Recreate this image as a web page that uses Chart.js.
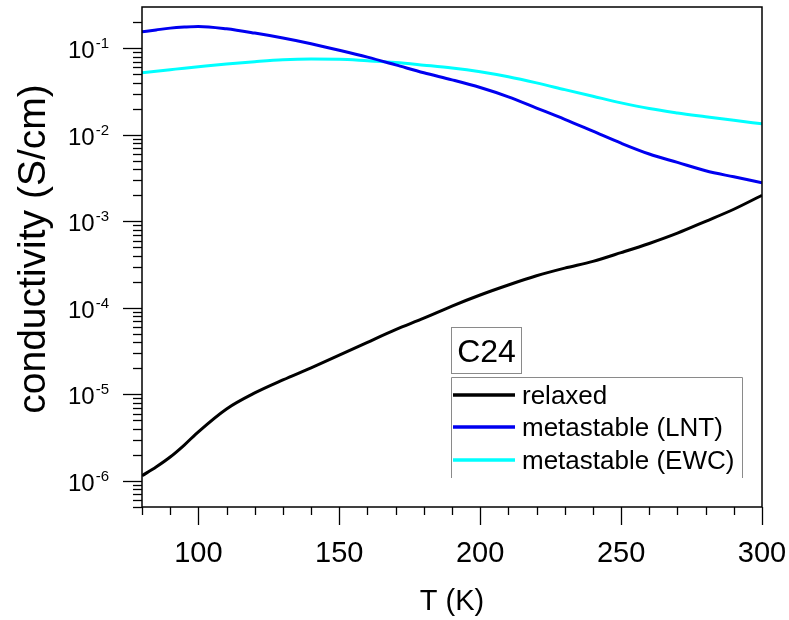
<!DOCTYPE html>
<html>
<head>
<meta charset="utf-8">
<script src="https://cdn.jsdelivr.net/npm/chart.js@4.4.1/dist/chart.umd.min.js"></script>
<style>
  html, body { margin: 0; padding: 0; background: #fff; }
  #wrap { width: 789px; height: 620px; }
</style>
</head>
<body>
<div id="wrap"><canvas id="chart" width="789" height="620"></canvas></div>
<script>
/* ============================= */
/* DATA   */
/* ============================= */

const temps = [80, 85, 90, 95, 100, 110, 120, 130, 140, 150, 160, 170, 180,
  190, 200, 210, 220, 230, 240, 250, 260, 270, 280, 290, 300];

const relaxed = [1.15e-6, 1.45e-6, 1.89e-6, 2.6e-6, 3.7e-6, 6.8e-6, 1.04e-5,
  1.47e-5, 2.03e-5, 2.84e-5, 4.0e-5, 5.6e-5, 7.6e-5, 1.05e-4, 1.41e-4,
  1.84e-4, 2.35e-4, 2.88e-4, 3.45e-4, 4.35e-4, 5.55e-4, 7.3e-4, 1.0e-3,
  1.38e-3, 2.0e-3];

const metaLNT = [0.155, 0.163, 0.171, 0.176, 0.179, 0.168, 0.150, 0.1315,
  0.113, 0.095, 0.079, 0.0643, 0.0521, 0.0432, 0.0352, 0.0275, 0.0204,
  0.0151, 0.011, 0.008, 0.006, 0.0048, 0.00384, 0.00327, 0.0028];

const metaEWC = [0.0523, 0.0544, 0.0566, 0.0589, 0.0612, 0.0659, 0.070,
  0.0736, 0.075, 0.0746, 0.0716, 0.0684, 0.0638, 0.0592, 0.0535, 0.0468,
  0.0398, 0.0333, 0.0279, 0.0234, 0.0201, 0.0179, 0.0162, 0.0147, 0.0134];

const seriesNames = ["relaxed", "metastable (LNT)", "metastable (EWC)"];
const seriesColors = ["#000000", "#0000f0", "#00ffff"];

const xMajorTicks = [100, 150, 200, 250, 300];
const xMinorTicks = [80, 90, 110, 120, 130, 140, 160, 170, 180, 190, 210,
  220, 230, 240, 260, 270, 280, 290];
const yExponents = [-6, -5, -4, -3, -2, -1];

const FONT = "'Liberation Sans', Arial, sans-serif";

function toPoints(vals) {
  return temps.map((t, i) => ({ x: t, y: vals[i] }));
}

/* ============================= */
/* AXES, FRAME, LEGEND           */
/* ============================= */

const framePlugin = {
  id: "frame",
  afterDraw(chart) {
    const { ctx, chartArea: a, scales } = chart;
    const xs = scales.x, ys = scales.y;
    ctx.save();
    ctx.strokeStyle = "#000";
    ctx.fillStyle = "#000";
    ctx.lineWidth = 1.5;
    ctx.strokeRect(a.left, a.top, a.right - a.left, a.bottom - a.top);

    // x ticks
    ctx.lineWidth = 1.3;
    const xTicks = xMajorTicks.map((t) => [t, 18]).concat(xMinorTicks.map((t) => [t, 8]));
    xTicks.forEach(([t, len]) => {
      const px = Math.round(xs.getPixelForValue(t)) + 0.5;
      ctx.beginPath();
      ctx.moveTo(px, a.bottom);
      ctx.lineTo(px, a.bottom + len);
      ctx.stroke();
    });
    ctx.font = "29px " + FONT;
    ctx.textAlign = "center";
    ctx.textBaseline = "alphabetic";
    xMajorTicks.forEach((t) => {
      ctx.fillText(String(t), xs.getPixelForValue(t), a.bottom + 55);
    });
    ctx.fillText("T (K)", (a.left + a.right) / 2, 610);

    // y ticks (log, 1..9 per decade)
    for (let e = -7; e <= 0; e++) {
      for (let m = 1; m <= 9; m++) {
        const v = m * Math.pow(10, e);
        if (v < ys.min || v > ys.max) continue;
        const py = Math.round(ys.getPixelForValue(v)) + 0.5;
        const len = m === 1 ? 19 : 9;
        ctx.beginPath();
        ctx.moveTo(a.left - len, py);
        ctx.lineTo(a.left, py);
        ctx.stroke();
      }
    }
    yExponents.forEach((e) => {
      const py = ys.getPixelForValue(Math.pow(10, e));
      const right = a.left - 33;
      ctx.font = "15px " + FONT;
      ctx.textAlign = "right";
      const expW = ctx.measureText(String(e)).width;
      ctx.fillText(String(e), right, py);
      ctx.font = "24px " + FONT;
      ctx.fillText("10", right - expW - 1, py + 10);
    });

    // y title
    ctx.save();
    ctx.translate(45, 249);
    ctx.rotate(-Math.PI / 2);
    ctx.font = "39px " + FONT;
    ctx.textAlign = "center";
    ctx.fillText("conductivity (S/cm)", 0, 0);
    ctx.restore();

    // C24 box
    ctx.strokeStyle = "#8a8a8a";
    ctx.lineWidth = 1;
    ctx.strokeRect(451.5, 327.5, 70, 46);
    ctx.font = "32px " + FONT;
    ctx.textAlign = "center";
    ctx.fillText("C24", 486.5, 362);

    // legend box (open at the bottom)
    ctx.beginPath();
    ctx.moveTo(451.5, 478);
    ctx.lineTo(451.5, 377.5);
    ctx.lineTo(742.5, 377.5);
    ctx.lineTo(742.5, 478);
    ctx.stroke();

    const rowY = [395, 427, 460];
    ctx.font = "26px " + FONT;
    ctx.textAlign = "left";
    chart.data.datasets.forEach((ds, i) => {
      ctx.strokeStyle = ds.borderColor;
      ctx.lineWidth = 3.5;
      ctx.beginPath();
      ctx.moveTo(453, rowY[i]);
      ctx.lineTo(515, rowY[i]);
      ctx.stroke();
      ctx.fillStyle = "#000";
      ctx.fillText(ds.label, 522, rowY[i] + 9);
    });
    ctx.restore();
  },
};

/* ============================= */
/* CHART                         */
/* ============================= */

const seriesData = [relaxed, metaLNT, metaEWC];

new Chart(document.getElementById("chart"), {
  type: "line",
  data: {
    datasets: seriesData.map((vals, i) => ({
      label: seriesNames[i],
      data: toPoints(vals),
      borderColor: seriesColors[i],
      borderWidth: 3,
      pointRadius: 0,
      cubicInterpolationMode: "monotone",
      fill: false,
    })),
  },
  options: {
    responsive: false,
    animation: false,
    devicePixelRatio: 1,
    layout: { padding: { left: 142, right: 27, top: 7, bottom: 113 } },
    plugins: { legend: { display: false }, tooltip: { enabled: false } },
    scales: {
      x: { type: "linear", min: 80, max: 300, display: false },
      y: { type: "logarithmic", min: 5e-7, max: 0.3, display: false },
    },
  },
  plugins: [framePlugin],
});
</script>
</body>
</html>
